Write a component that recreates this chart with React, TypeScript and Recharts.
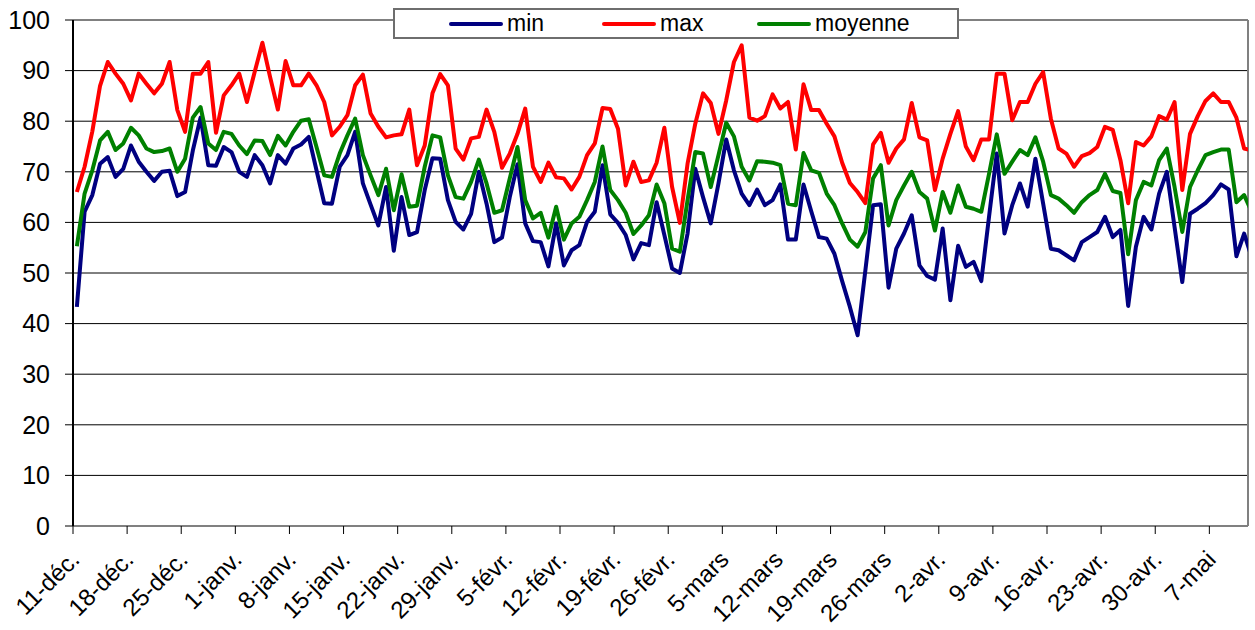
import React from 'react';
import { LineChart, Line, XAxis, YAxis, CartesianGrid, ReferenceLine } from 'recharts';

const tickLabels = [
  '11-déc.', '18-déc.', '25-déc.', '1-janv.', '8-janv.', '15-janv.', '22-janv.', '29-janv.',
  '5-févr.', '12-févr.', '19-févr.', '26-févr.', '5-mars', '12-mars', '19-mars', '26-mars',
  '2-avr.', '9-avr.', '16-avr.', '23-avr.', '30-avr.', '7-mai',
];

const yTicks = [0, 10, 20, 30, 40, 50, 60, 70, 80, 90, 100];

const minValues = [
  43.3, 62.1, 65.4, 71.6, 72.9, 69, 70.6, 75.2, 72, 70,
  68.2, 70, 70.2, 65.2, 66, 74.2, 80.7, 71.3, 71.2, 74.9,
  73.9, 70, 69, 73.3, 71.3, 67.7, 73.3, 71.6, 74.6, 75.4,
  76.9, 70.3, 63.8, 63.7, 71, 73.3, 77.9, 67.7, 63.5, 59.4,
  67, 54.4, 65, 57.5, 58.1, 66.4, 72.7, 72.6, 64.4, 60.1,
  58.6, 61.7, 70, 63.7, 56.1, 57, 65, 71.5, 59.8, 56.3,
  56.1, 51.3, 59.8, 51.5, 54.5, 55.5, 60.1, 62.1, 71.3, 61.6,
  59.9, 57.5, 52.7, 55.9, 55.5, 64, 57.5, 50.9, 50, 57.8,
  70.6, 65, 59.8, 67.7, 76.4, 70.3, 65.7, 63.4, 66.5, 63.4,
  64.4, 67.5, 56.6, 56.6, 67.5, 62.2, 57.1, 56.8, 53.8, 48.4,
  43.3, 37.7, 50.5, 63.4, 63.6, 47.1, 54.8, 57.8, 61.4, 51.5,
  49.4, 48.7, 58.8, 44.6, 55.4, 51.2, 52.2, 48.4, 61.1, 73.6,
  57.8, 63.4, 67.7, 63.1, 72.6, 63.7, 54.8, 54.5, 53.5, 52.5,
  56.1, 57.1, 58.1, 61.1, 57.1, 58.5, 43.5, 55.2, 61.1, 58.6,
  65.7, 70, 59.1, 48.2, 61.7, 62.7, 63.8, 65.4, 67.5, 66.5,
  53.3, 57.8, 53,
];

const maxValues = [
  66, 71, 78, 87, 91.7, 89.4, 87.4, 84.1, 89.4, 87.4,
  85.5, 87.4, 91.7, 82.2, 77.9, 89.4, 89.4, 91.7, 77.7, 85.1,
  87.1, 89.4, 83.8, 89.7, 95.5, 88.7, 82.3, 91.9, 87.1, 87.1,
  89.4, 87.1, 83.8, 77.2, 78.9, 81.2, 87.1, 89.2, 81.5, 78.9,
  76.8, 77.2, 77.4, 82.3, 71.3, 75.2, 85.5, 89.3, 87.1, 74.6,
  72.4, 76.6, 76.9, 82.3, 77.9, 70.8, 73.6, 77.5, 82.5, 71,
  68, 71.8, 68.9, 68.7, 66.5, 69, 73.3, 75.6, 82.6, 82.4,
  78.5, 67.3, 72, 68, 68.3, 71.8, 78.7, 67, 59.9, 71.6,
  79.5, 85.5, 83.6, 77.5, 84.1, 91.7, 95, 80.7, 80.1, 81,
  85.3, 82.5, 83.8, 74.4, 87.3, 82.2, 82.2, 79.5, 77, 71.8,
  67.8, 66, 63.8, 75.4, 77.7, 71.8, 74.6, 76.4, 83.6, 76.8,
  76.2, 66.4, 72.6, 77.5, 82, 75, 72.3, 76.4, 76.4, 89.4,
  89.4, 80.2, 83.8, 83.8, 87.4, 89.7, 80.5, 74.6, 73.6, 71,
  73.1, 73.7, 74.9, 78.9, 78.3, 72.3, 63.8, 75.9, 75.2, 77,
  81, 80.3, 83.8, 66.4, 77.5, 81, 84, 85.5, 83.8, 83.8,
  80.7, 74.6, 74.2,
];

const moyenneValues = [
  55.3, 65.7, 70.3, 76.2, 77.9, 74.3, 75.6, 78.7, 77.2, 74.6,
  73.9, 74.1, 74.6, 70, 72.6, 80.7, 82.8, 75.6, 74.3, 77.9,
  77.5, 75.2, 73.5, 76.2, 76.1, 73.3, 77.1, 75.2, 77.9, 80.1,
  80.4, 74.9, 69.3, 69, 73.6, 77.2, 80.5, 73.3, 69.3, 65.4,
  70.6, 62.4, 69.5, 63.1, 63.3, 71, 77.2, 76.8, 69.3, 65,
  64.7, 68, 72.4, 67.7, 61.9, 62.4, 68.7, 74.9, 64.4, 60.8,
  61.9, 57, 63.1, 56.6, 59.8, 61.1, 64.4, 68, 75, 66.4,
  64.4, 61.9, 57.7, 59.4, 61.4, 67.5, 63.8, 54.8, 54.2, 64.4,
  73.9, 73.6, 67, 73.3, 79.7, 77, 71, 68.3, 72.1, 72,
  71.8, 71.3, 63.7, 63.4, 73.7, 70.3, 69.8, 65.7, 63.4, 59.8,
  56.6, 55.2, 58.1, 68.7, 71.3, 59.4, 64.4, 67.3, 70, 66,
  64.7, 58.4, 66, 61.9, 67.3, 63.1, 62.7, 62.1, 69.6, 77.4,
  69.6, 72, 74.3, 73.3, 76.8, 72, 65.4, 64.7, 63.4, 61.9,
  64, 65.4, 66.4, 69.6, 66.2, 65.8, 53.7, 64.4, 68, 67.3,
  72.3, 74.6, 67, 58.1, 67, 70.3, 73.3, 73.9, 74.4, 74.4,
  64, 65.4, 62,
];

const seriesNames = ['min', 'max', 'moyenne'];
const seriesColors = ['#000080', '#ff0000', '#008000'];

const data = minValues.map((v, i) => ({
  day: i + 0.5,
  min: v,
  max: maxValues[i],
  moyenne: moyenneValues[i],
}));

const xTicks = tickLabels.map((_, k) => k * 7);

const FONT = '"Liberation Sans", Arial, Helvetica, sans-serif';

const XTick = (props: any) => {
  const { x, y, payload } = props;
  const idx = Math.round(payload.value / 7);
  return (
    <g transform={`translate(${x + 2},${y + 19})`}>
      <text
        textAnchor="end"
        transform="rotate(-45)"
        dy="0.35em"
        fontSize={24}
        fontFamily={FONT}
        fill="#000"
      >
        {tickLabels[idx]}
      </text>
    </g>
  );
};

const legendLeft = [54, 207, 362];

const LegendBox = () => (
  <div
    style={{
      position: 'absolute',
      left: 393,
      top: 8,
      width: 566,
      height: 31,
      boxSizing: 'border-box',
      border: '2px solid #6e6e6e',
      background: '#fff',
      fontFamily: FONT,
      fontSize: 23,
      zIndex: 2,
    }}
  >
    {seriesNames.map((name, k) => (
      <div key={name} style={{ position: 'absolute', left: legendLeft[k], top: 0, height: 27, display: 'flex', alignItems: 'center' }}>
        <div style={{ width: 54, height: 4, borderRadius: 2, background: seriesColors[k] }} />
        <span style={{ marginLeft: 4, color: '#000', lineHeight: '27px' }}>{name}</span>
      </div>
    ))}
  </div>
);

export default function App() {
  return (
    <div style={{ position: 'absolute', left: 0, top: 0, width: 1255, height: 630, background: '#fff' }}>
      <LineChart
        width={1255}
        height={630}
        data={data}
        margin={{ top: 20, right: 7, bottom: 0, left: 0 }}
      >
        <CartesianGrid horizontal vertical={false} stroke="#000" strokeWidth={1} />
        <XAxis
          dataKey="day"
          type="number"
          domain={[0, 152]}
          allowDataOverflow
          ticks={xTicks}
          interval={0}
          height={104}
          tick={<XTick />}
          tickSize={8}
          axisLine={{ stroke: '#808080', strokeWidth: 2 }}
          tickLine={{ stroke: '#000', strokeWidth: 1 }}
        />
        <YAxis
          type="number"
          domain={[0, 100]}
          ticks={yTicks}
          interval={0}
          width={73}
          tickSize={8}
          tickMargin={15}
          axisLine={{ stroke: '#000', strokeWidth: 2 }}
          tickLine={{ stroke: '#000', strokeWidth: 1 }}
          tick={{ fontSize: 25, fontFamily: FONT, fill: '#000' }}
        />
        <ReferenceLine y={100} stroke="#808080" strokeWidth={2} />
        <ReferenceLine x={152} stroke="#808080" strokeWidth={2} />
        {seriesNames.map((name, k) => (
          <Line
            key={name}
            type="linear"
            dataKey={name}
            stroke={seriesColors[k]}
            strokeWidth={4}
            dot={false}
            activeDot={false}
            isAnimationActive={false}
            strokeLinejoin="round"
          />
        ))}
      </LineChart>
      <LegendBox />
    </div>
  );
}
